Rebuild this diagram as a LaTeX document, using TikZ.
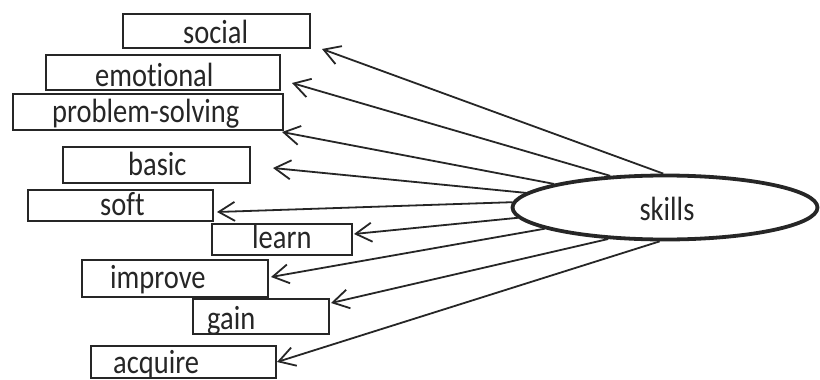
\documentclass[tikz,border=0pt]{standalone}
\usepackage{graphicx}
\usepackage{fontspec}
\setmainfont{Carlito}[Ligatures=NoCommon]
\usetikzlibrary{arrows.meta,shapes.geometric}
\newcommand{\stretchtxt}[1]{\scalebox{1}[1.18]{#1}}
\begin{document}
\begin{tikzpicture}[x=1pt,y=-1pt,
  box/.style={draw=black!85,line width=1.8pt,rectangle,inner sep=0pt},
  lbl/.style={anchor=base west,inner sep=0pt,font=\fontsize{28.5}{30}\selectfont,text=black!85},
  conn/.style={draw=black!85,line width=1.8pt,-{Straight Barb[length=16pt,width=19pt,line width=1.8pt]}},
  hub/.style={draw=black!85,ellipse,line width=3.8pt,inner sep=0pt}
]
\useasboundingbox (0,0) rectangle (820,380);
\fill[white] (0,0) rectangle (820,380);
% boxes
\newcommand{\mybox}[5]{\node[box,minimum width={#4-#2},minimum height={#5-#3}] (#1) at ({(#2+#4)/2},{(#3+#5)/2}) {};}
\mybox{soc}{123}{14}{310}{48}
\mybox{emo}{46}{55}{280}{90}
\mybox{pro}{13}{94}{283}{130}
\mybox{bas}{63}{147}{250}{183}
\mybox{sof}{28}{190}{213}{221}
\mybox{lea}{212}{224}{352}{255}
\mybox{imp}{82}{260}{268}{297}
\mybox{gai}{193}{299}{329}{334}
\mybox{acq}{91}{346}{276}{378}
% labels
\node[lbl] (tsoc) at (183,43) {\stretchtxt{social}};
\node[lbl] (temo) at (95,86) {\stretchtxt{emotional}};
\node[lbl] (tpro) at (52,122) {\stretchtxt{problem-solving}};
\node[lbl] (tbas) at (128,175) {\stretchtxt{basic}};
\node[lbl] (tsof) at (100,215) {\stretchtxt{soft}};
\node[lbl] (tlea) at (252,248) {\stretchtxt{learn}};
\node[lbl] (timp) at (110,288) {\stretchtxt{improve}};
\node[lbl] (tgai) at (207,329) {\stretchtxt{gain}};
\node[lbl] (tacq) at (113,373) {\stretchtxt{acquire}};
% hub
\node[hub,minimum width=305pt,minimum height=64pt] (sk) at (665,207.5) {};
\node[anchor=base,inner sep=0pt,font=\fontsize{28.5}{30}\selectfont,text=black!85] (tsk) at (667,220) {\stretchtxt{skills}};
% tips
\coordinate (psoc) at (322,49);
\coordinate (pemo) at (292,83);
\coordinate (ppro) at (282,132);
\coordinate (pbas) at (273,168);
\coordinate (psof) at (217,212);
\coordinate (plea) at (354,234);
\coordinate (pimp) at (271,277);
\coordinate (pgai) at (331,303);
\coordinate (pacq) at (277,362);
% connectors
\draw[conn] (sk.93) -- (psoc);
\draw[conn] (sk.150) -- (pemo);
\draw[conn] (sk.168) -- (ppro);
\draw[conn] (sk.174) -- (pbas);
\draw[conn] (sk.178) -- (psof);
\draw[conn] (sk.184) -- (plea);
\draw[conn] (sk.190) -- (pimp);
\draw[conn] (sk.209) -- (pgai);
\draw[conn] (sk.261) -- (pacq);
\end{tikzpicture}
\end{document}
